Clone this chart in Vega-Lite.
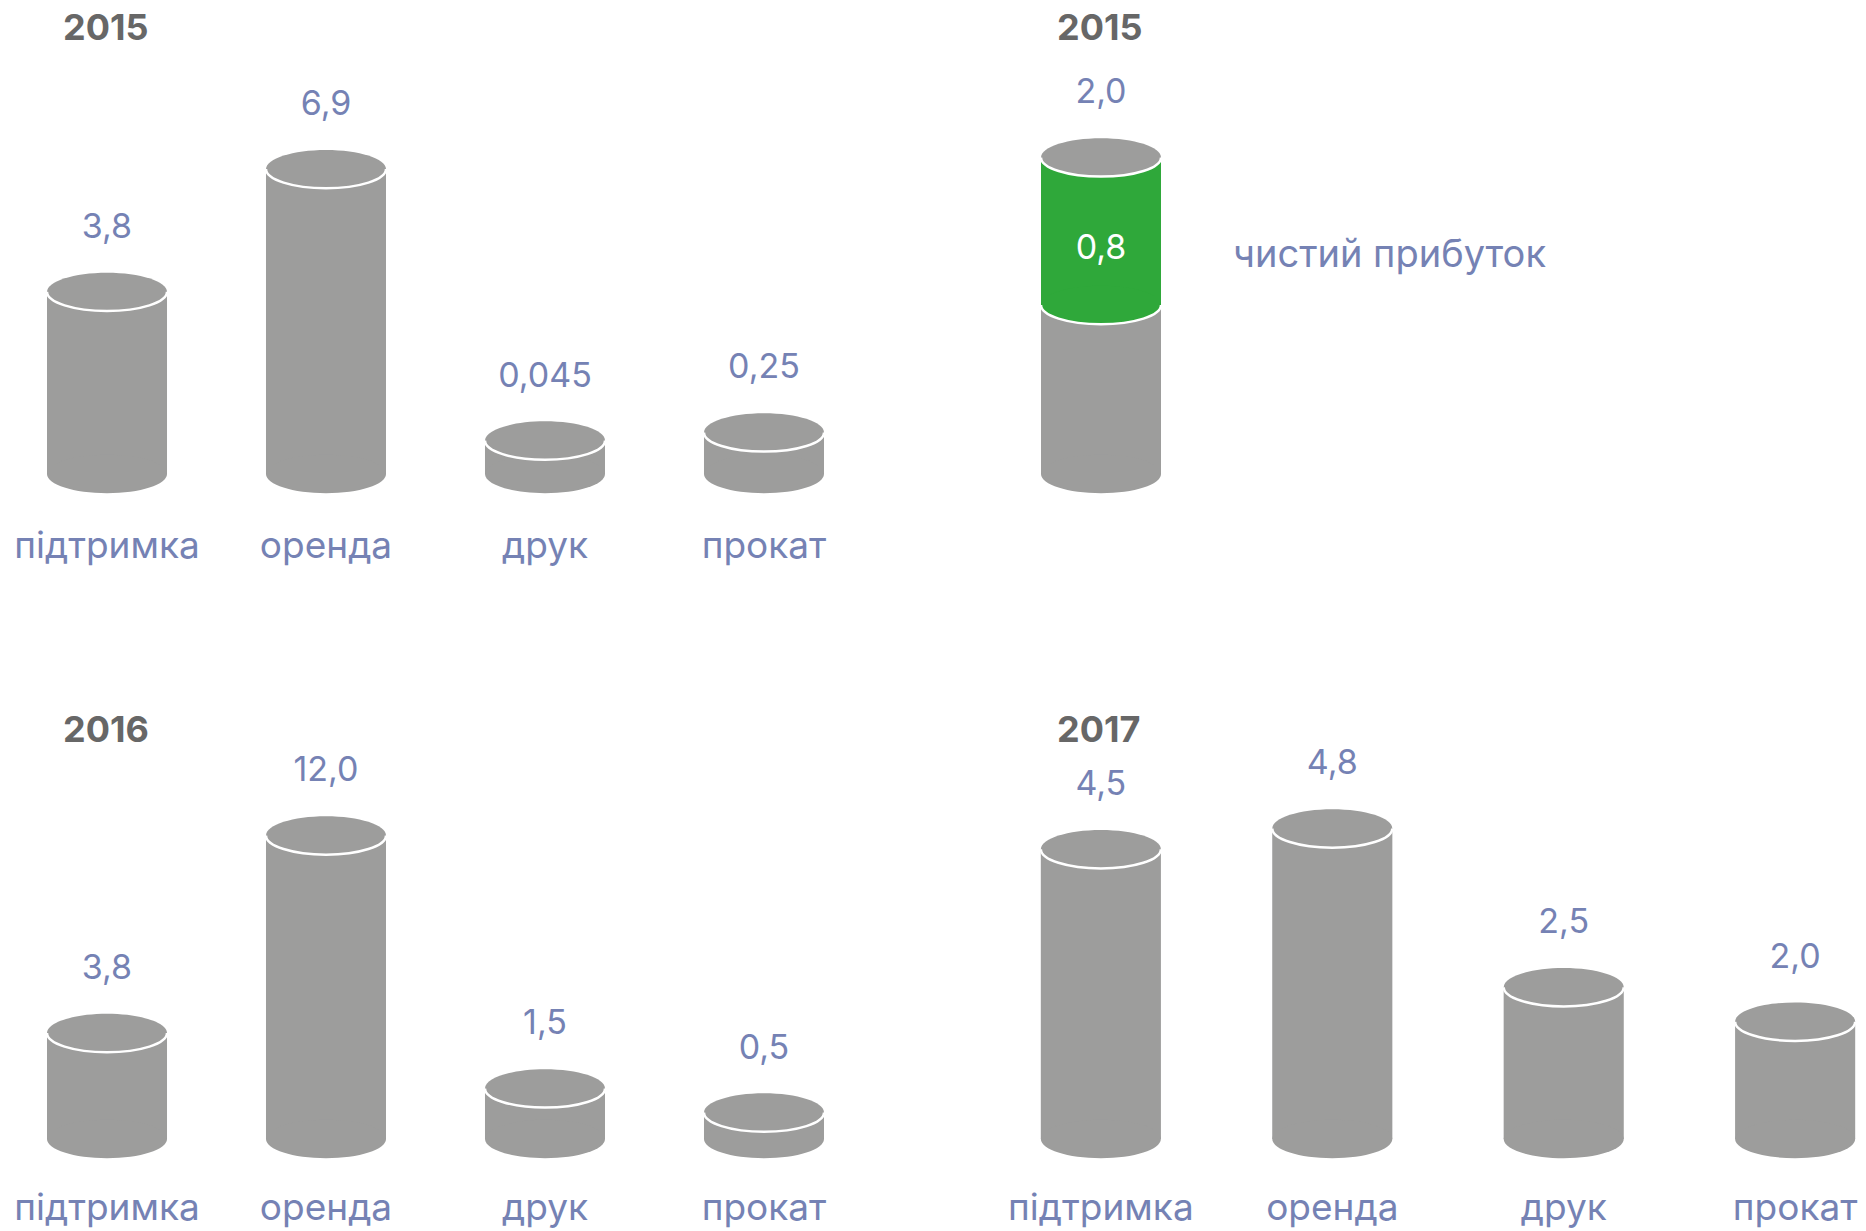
{
  "$schema": "https://vega.github.io/schema/vega-lite/v6.json",
  "background": "white",
  "padding": {"left": 0, "top": 0, "right": 0, "bottom": 4},
  "columns": 2,
  "bounds": "flush",
  "spacing": {"row": 228, "column": 159},
  "datasets": {
    "y2015": [
      {"category": "підтримка", "value": 3.8, "label": "3,8"},
      {"category": "оренда", "value": 6.9, "label": "6,9"},
      {"category": "друк", "value": 0.045, "label": "0,045"},
      {"category": "прокат", "value": 0.25, "label": "0,25"}
    ],
    "y2015profit": [
      {"category": "2015", "total": 2.0, "rest": 1.2, "profit": 0.8, "label": "2,0", "profitLabel": "0,8", "profitName": "чистий прибуток"}
    ],
    "y2016": [
      {"category": "підтримка", "value": 3.8, "label": "3,8"},
      {"category": "оренда", "value": 12.0, "label": "12,0"},
      {"category": "друк", "value": 1.5, "label": "1,5"},
      {"category": "прокат", "value": 0.5, "label": "0,5"}
    ],
    "y2017": [
      {"category": "підтримка", "value": 4.5, "label": "4,5"},
      {"category": "оренда", "value": 4.8, "label": "4,8"},
      {"category": "друк", "value": 2.5, "label": "2,5"},
      {"category": "прокат", "value": 2.0, "label": "2,0"}
    ]
  },
  "concat": [
    {
      "width": 871, "height": 474,
      "title": {"text": "2015", "dx": 63},
      "data": {"name": "y2015"},
      "encoding": {
        "x": {"field": "category", "type": "nominal", "sort": null,
              "scale": {"paddingInner": 0.452, "paddingOuter": 0.2146},
              "axis": {"title": null, "domain": false, "ticks": false, "tickSize": 0, "grid": false, "labelPadding": 54, "labelFontSize": 37, "labelFont": "Inter", "labelColor": "#7582b4", "labelAngle": 0, "labelLimit": 0, "labelOverlap": false}}
      },
      "layer": [
        {"mark": {"type": "bar", "color": "#9d9d9c"},
         "encoding": {"y": {"field": "value", "type": "quantitative", "scale": {"domain": [-0.8, 11.17], "zero": false, "nice": false}, "axis": null}, "y2": {"datum": -0.8}}},
        {"mark": {"type": "point", "shape": "M-1,0C-1,0.1767,-0.5523,0.32,0,0.32C0.5523,0.32,1,0.1767,1,0C1,-0.1767,0.5523,-0.32,0,-0.32C-0.5523,-0.32,-1,-0.1767,-1,0Z", "size": 14400, "filled": true, "color": "#9d9d9c", "opacity": 1, "strokeWidth": 0},
         "encoding": {"y": {"datum": -0.8, "type": "quantitative", "scale": {"domain": [-0.8, 11.17], "zero": false, "nice": false}, "axis": null}}},
        {"mark": {"type": "point", "shape": "M-1,0C-1,0.1767,-0.5523,0.32,0,0.32C0.5523,0.32,1,0.1767,1,0C1,-0.1767,0.5523,-0.32,0,-0.32C-0.5523,-0.32,-1,-0.1767,-1,0Z", "size": 14400, "filled": true, "color": "#9d9d9c", "opacity": 1, "strokeWidth": 0},
         "encoding": {"y": {"field": "value", "type": "quantitative", "scale": {"domain": [-0.8, 11.17], "zero": false, "nice": false}, "axis": null}}},
        {"mark": {"type": "point", "shape": "M-1,0C-1,0.1767,-0.5523,0.32,0,0.32C0.5523,0.32,1,0.1767,1,0", "size": 14400, "filled": false, "color": "#ffffff", "opacity": 1, "strokeWidth": 2.5},
         "encoding": {"y": {"field": "value", "type": "quantitative", "scale": {"domain": [-0.8, 11.17], "zero": false, "nice": false}, "axis": null}}},
        {"mark": {"type": "text", "baseline": "alphabetic", "dy": -54, "fontSize": 34, "font": "Inter", "color": "#7582b4"},
         "encoding": {"y": {"field": "value", "type": "quantitative", "scale": {"domain": [-0.8, 11.17], "zero": false, "nice": false}, "axis": null}, "text": {"field": "label"}}}
      ]
    },
    {
      "width": 142, "height": 474,
      "title": {"text": "2015", "dx": 27},
      "data": {"name": "y2015profit"},
      "encoding": {
        "x": {"field": "category", "type": "nominal", "sort": null,
              "scale": {"paddingInner": 0, "paddingOuter": 0.0917}, "axis": null}
      },
      "layer": [
        {"mark": {"type": "bar", "color": "#9d9d9c"},
         "encoding": {"y": {"field": "rest", "type": "quantitative", "scale": {"domain": [0.284, 2.853], "zero": false, "nice": false}, "axis": null}, "y2": {"datum": 0.284}}},
        {"mark": {"type": "point", "shape": "M-1,0C-1,0.1767,-0.5523,0.32,0,0.32C0.5523,0.32,1,0.1767,1,0C1,-0.1767,0.5523,-0.32,0,-0.32C-0.5523,-0.32,-1,-0.1767,-1,0Z", "size": 14400, "filled": true, "color": "#9d9d9c", "opacity": 1, "strokeWidth": 0},
         "encoding": {"y": {"datum": 0.284, "type": "quantitative", "scale": {"domain": [0.284, 2.853], "zero": false, "nice": false}, "axis": null}}},
        {"mark": {"type": "bar", "color": "#2fa83a"},
         "encoding": {"y": {"field": "total", "type": "quantitative", "scale": {"domain": [0.284, 2.853], "zero": false, "nice": false}, "axis": null}, "y2": {"field": "rest"}}},
        {"mark": {"type": "point", "shape": "M-1,0C-1,0.1767,-0.5523,0.32,0,0.32C0.5523,0.32,1,0.1767,1,0C1,-0.1767,0.5523,-0.32,0,-0.32C-0.5523,-0.32,-1,-0.1767,-1,0Z", "size": 14400, "filled": true, "color": "#2fa83a", "opacity": 1, "strokeWidth": 0},
         "encoding": {"y": {"field": "rest", "type": "quantitative", "scale": {"domain": [0.284, 2.853], "zero": false, "nice": false}, "axis": null}}},
        {"mark": {"type": "point", "shape": "M-1,0C-1,0.1767,-0.5523,0.32,0,0.32C0.5523,0.32,1,0.1767,1,0", "size": 14400, "filled": false, "color": "#ffffff", "opacity": 1, "strokeWidth": 2.5},
         "encoding": {"y": {"field": "rest", "type": "quantitative", "scale": {"domain": [0.284, 2.853], "zero": false, "nice": false}, "axis": null}}},
        {"mark": {"type": "point", "shape": "M-1,0C-1,0.1767,-0.5523,0.32,0,0.32C0.5523,0.32,1,0.1767,1,0C1,-0.1767,0.5523,-0.32,0,-0.32C-0.5523,-0.32,-1,-0.1767,-1,0Z", "size": 14400, "filled": true, "color": "#9d9d9c", "opacity": 1, "strokeWidth": 0},
         "encoding": {"y": {"field": "total", "type": "quantitative", "scale": {"domain": [0.284, 2.853], "zero": false, "nice": false}, "axis": null}}},
        {"mark": {"type": "point", "shape": "M-1,0C-1,0.1767,-0.5523,0.32,0,0.32C0.5523,0.32,1,0.1767,1,0", "size": 14400, "filled": false, "color": "#ffffff", "opacity": 1, "strokeWidth": 2.5},
         "encoding": {"y": {"field": "total", "type": "quantitative", "scale": {"domain": [0.284, 2.853], "zero": false, "nice": false}, "axis": null}}},
        {"mark": {"type": "text", "baseline": "alphabetic", "dy": -54, "fontSize": 34, "font": "Inter", "color": "#7582b4"},
         "encoding": {"y": {"field": "total", "type": "quantitative", "scale": {"domain": [0.284, 2.853], "zero": false, "nice": false}, "axis": null}, "text": {"field": "label"}}},
        {"mark": {"type": "text", "baseline": "alphabetic", "dy": -46, "fontSize": 34, "font": "Inter", "color": "#ffffff"},
         "encoding": {"y": {"field": "rest", "type": "quantitative", "scale": {"domain": [0.284, 2.853], "zero": false, "nice": false}, "axis": null}, "text": {"field": "profitLabel"}}},
        {"mark": {"type": "text", "baseline": "alphabetic", "align": "left", "dx": 132, "dy": -38, "fontSize": 38, "font": "Inter", "color": "#7582b4"},
         "encoding": {"y": {"field": "rest", "type": "quantitative", "scale": {"domain": [0.284, 2.853], "zero": false, "nice": false}, "axis": null}, "text": {"field": "profitName"}}}
      ]
    },
    {
      "width": 871, "height": 437,
      "title": {"text": "2016", "dx": 63},
      "data": {"name": "y2016"},
      "encoding": {
        "x": {"field": "category", "type": "nominal", "sort": null,
              "scale": {"paddingInner": 0.452, "paddingOuter": 0.2146},
              "axis": {"title": null, "domain": false, "ticks": false, "tickSize": 0, "grid": false, "labelPadding": 51, "labelFontSize": 37, "labelFont": "Inter", "labelColor": "#7582b4", "labelAngle": 0, "labelLimit": 0, "labelOverlap": false}}
      },
      "layer": [
        {"mark": {"type": "bar", "color": "#9d9d9c"},
         "encoding": {"y": {"field": "value", "type": "quantitative", "scale": {"domain": [-0.6, 17.54], "zero": false, "nice": false}, "axis": null}, "y2": {"datum": -0.6}}},
        {"mark": {"type": "point", "shape": "M-1,0C-1,0.1767,-0.5523,0.32,0,0.32C0.5523,0.32,1,0.1767,1,0C1,-0.1767,0.5523,-0.32,0,-0.32C-0.5523,-0.32,-1,-0.1767,-1,0Z", "size": 14400, "filled": true, "color": "#9d9d9c", "opacity": 1, "strokeWidth": 0},
         "encoding": {"y": {"datum": -0.6, "type": "quantitative", "scale": {"domain": [-0.6, 17.54], "zero": false, "nice": false}, "axis": null}}},
        {"mark": {"type": "point", "shape": "M-1,0C-1,0.1767,-0.5523,0.32,0,0.32C0.5523,0.32,1,0.1767,1,0C1,-0.1767,0.5523,-0.32,0,-0.32C-0.5523,-0.32,-1,-0.1767,-1,0Z", "size": 14400, "filled": true, "color": "#9d9d9c", "opacity": 1, "strokeWidth": 0},
         "encoding": {"y": {"field": "value", "type": "quantitative", "scale": {"domain": [-0.6, 17.54], "zero": false, "nice": false}, "axis": null}}},
        {"mark": {"type": "point", "shape": "M-1,0C-1,0.1767,-0.5523,0.32,0,0.32C0.5523,0.32,1,0.1767,1,0", "size": 14400, "filled": false, "color": "#ffffff", "opacity": 1, "strokeWidth": 2.5},
         "encoding": {"y": {"field": "value", "type": "quantitative", "scale": {"domain": [-0.6, 17.54], "zero": false, "nice": false}, "axis": null}}},
        {"mark": {"type": "text", "baseline": "alphabetic", "dy": -54, "fontSize": 34, "font": "Inter", "color": "#7582b4"},
         "encoding": {"y": {"field": "value", "type": "quantitative", "scale": {"domain": [-0.6, 17.54], "zero": false, "nice": false}, "axis": null}, "text": {"field": "label"}}}
      ]
    },
    {
      "width": 836, "height": 437,
      "title": {"text": "2017", "dx": 27},
      "data": {"name": "y2017"},
      "encoding": {
        "x": {"field": "category", "type": "nominal", "sort": null,
              "scale": {"paddingInner": 0.481, "paddingOuter": 0.0467},
              "axis": {"title": null, "domain": false, "ticks": false, "tickSize": 0, "grid": false, "labelPadding": 51, "labelFontSize": 37, "labelFont": "Inter", "labelColor": "#7582b4", "labelAngle": 0, "labelLimit": 0, "labelOverlap": false}}
      },
      "layer": [
        {"mark": {"type": "bar", "color": "#9d9d9c"},
         "encoding": {"y": {"field": "value", "type": "quantitative", "scale": {"domain": [0.3, 6.633], "zero": false, "nice": false}, "axis": null}, "y2": {"datum": 0.3}}},
        {"mark": {"type": "point", "shape": "M-1,0C-1,0.1767,-0.5523,0.32,0,0.32C0.5523,0.32,1,0.1767,1,0C1,-0.1767,0.5523,-0.32,0,-0.32C-0.5523,-0.32,-1,-0.1767,-1,0Z", "size": 14400, "filled": true, "color": "#9d9d9c", "opacity": 1, "strokeWidth": 0},
         "encoding": {"y": {"datum": 0.3, "type": "quantitative", "scale": {"domain": [0.3, 6.633], "zero": false, "nice": false}, "axis": null}}},
        {"mark": {"type": "point", "shape": "M-1,0C-1,0.1767,-0.5523,0.32,0,0.32C0.5523,0.32,1,0.1767,1,0C1,-0.1767,0.5523,-0.32,0,-0.32C-0.5523,-0.32,-1,-0.1767,-1,0Z", "size": 14400, "filled": true, "color": "#9d9d9c", "opacity": 1, "strokeWidth": 0},
         "encoding": {"y": {"field": "value", "type": "quantitative", "scale": {"domain": [0.3, 6.633], "zero": false, "nice": false}, "axis": null}}},
        {"mark": {"type": "point", "shape": "M-1,0C-1,0.1767,-0.5523,0.32,0,0.32C0.5523,0.32,1,0.1767,1,0", "size": 14400, "filled": false, "color": "#ffffff", "opacity": 1, "strokeWidth": 2.5},
         "encoding": {"y": {"field": "value", "type": "quantitative", "scale": {"domain": [0.3, 6.633], "zero": false, "nice": false}, "axis": null}}},
        {"mark": {"type": "text", "baseline": "alphabetic", "dy": -54, "fontSize": 34, "font": "Inter", "color": "#7582b4"},
         "encoding": {"y": {"field": "value", "type": "quantitative", "scale": {"domain": [0.3, 6.633], "zero": false, "nice": false}, "axis": null}, "text": {"field": "label"}}}
      ]
    }
  ],
  "config": {
    "view": {"stroke": null},
    "font": "Inter",
    "title": {"anchor": "start", "baseline": "alphabetic", "offset": -48, "frame": "group", "font": "Inter", "fontSize": 36, "fontWeight": "bold", "color": "#676767"}
  }
}
